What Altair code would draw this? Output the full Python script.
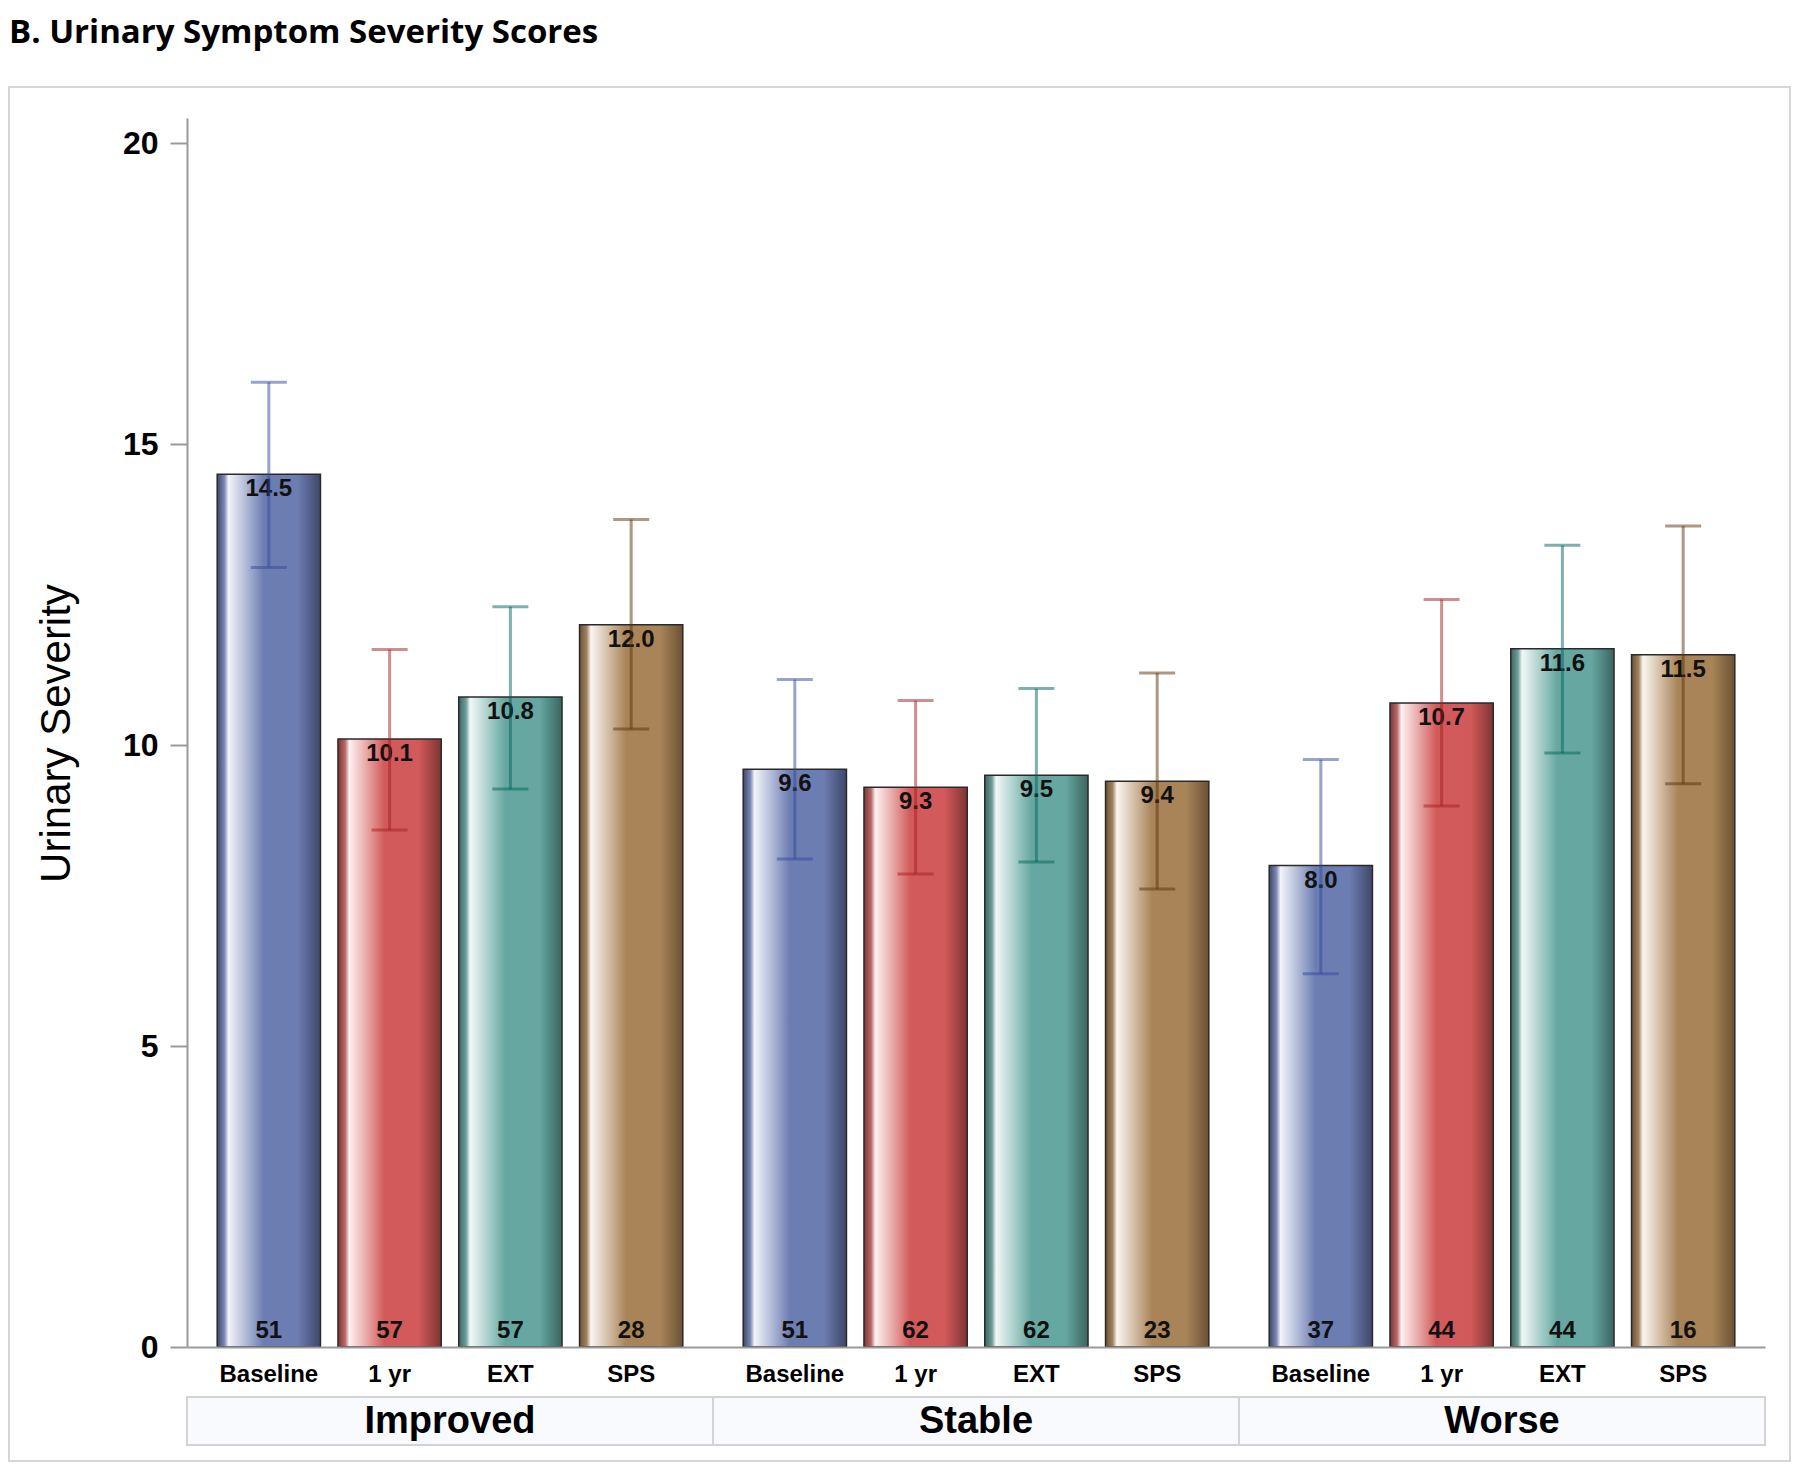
import altair as alt
import pandas as pd

# ---- data ----
groups = ["Improved", "Stable", "Worse"]
times = ["Baseline", "1 yr", "EXT", "SPS"]
means = [[14.5, 10.1, 10.8, 12.0],
         [9.6, 9.3, 9.5, 9.4],
         [8.0, 10.7, 11.6, 11.5]]
upper = [[16.03, 11.59, 12.30, 13.75],
         [11.09, 10.74, 10.94, 11.20],
         [9.76, 12.42, 13.32, 13.64]]
lower = [[12.95, 8.59, 9.27, 10.27],
         [8.11, 7.86, 8.06, 7.61],
         [6.20, 8.99, 9.87, 9.36]]
counts = [[51, 57, 57, 28],
          [51, 62, 62, 23],
          [37, 44, 44, 16]]
y_ticks = [0, 5, 10, 15, 20]
chart_title = "B. Urinary Symptom Severity Scores"
y_title = "Urinary Severity"

# ---- styles ----
base_cols = {"Baseline": "#6C7DB2", "1 yr": "#D35A5A", "EXT": "#66A8A1", "SPS": "#A98459"}
dark_cols = {"Baseline": "#3E4767", "1 yr": "#7E3434", "EXT": "#3B6560", "SPS": "#6B5233"}
mid_cols = {"Baseline": "#7C89B5", "1 yr": "#B86A6A", "EXT": "#6F9D98", "SPS": "#A08462"}
light_cols = {"Baseline": "#F3F4F9", "1 yr": "#FDF1F1", "EXT": "#F1F8F7", "SPS": "#FBF6F0"}
err_cols = ["#34479A", "#A41E1E", "#00645A", "#5A3208"]

rows = []
for gi, g in enumerate(groups):
    for ti, t in enumerate(times):
        rows.append(dict(group=g, time=t, mean=means[gi][ti], lo=lower[gi][ti],
                         hi=upper[gi][ti], n=str(counts[gi][ti]),
                         label=f"{means[gi][ti]:.1f}"))
df = pd.DataFrame(rows)
df_g = pd.DataFrame({"group": groups})
df_one = pd.DataFrame({"t": [chart_title]})

W, H = 1578, 1229
FONT = "Liberation Sans"

x_enc = alt.X("group:N", scale=alt.Scale(domain=groups, paddingInner=0, paddingOuter=0),
              axis=alt.Axis(labels=False, ticks=False, title=None, domain=True,
                            domainColor="#9a9a9a", domainWidth=2, grid=False))
xo_enc = alt.XOffset("time:N", scale=alt.Scale(domain=times, paddingInner=0.145, paddingOuter=0.25))
y_scale = alt.Scale(domain=[0, 20.42], nice=False, zero=True)
y_axis = alt.Axis(values=y_ticks, format="d", tickSize=17, tickColor="#9a9a9a", tickWidth=2,
                  domainColor="#9a9a9a", domainWidth=2, labelFont=FONT, labelFontSize=32,
                  labelFontWeight="bold", labelColor="black", labelPadding=12,
                  labelFlush=False, grid=False, title=y_title, titleFont=FONT,
                  titleFontSize=42, titleFontWeight="normal", titleColor="black",
                  titleX=-109, titleY=615, titleAngle=270, titleBaseline="bottom",
                  titleAlign="center")


def Y(field):
    return alt.Y(field, scale=y_scale, axis=y_axis)


layers = []

# outer border
layers.append(alt.Chart(df_one).mark_rect(fillOpacity=0, stroke="#d6d6d6", strokeWidth=2).encode(
    x=alt.value(-178), x2=alt.value(1603), y=alt.value(-31), y2=alt.value(H + 114)))

# title
layers.append(alt.Chart(df_one).mark_text(font="Open Sans", fontSize=33, fontWeight="bold",
                                          align="left", baseline="alphabetic", color="black").encode(
    x=alt.value(-178), y=alt.value(-75), text="t:N"))

# group label boxes
layers.append(alt.Chart(df_g).mark_rect(fill="#f9fafe", stroke="#d3d3d3", strokeWidth=2).encode(
    x=x_enc, y=alt.value(H + 50), y2=alt.value(H + 98)))
layers.append(alt.Chart(df_g).mark_text(font=FONT, fontSize=38, fontWeight="bold",
                                        color="black", baseline="middle").encode(
    x=x_enc, y=alt.value(H + 75), text="group:N"))

# bars with gradient fills
for i, t in enumerate(times):
    grad = alt.LinearGradient(
        gradient="linear", x1=0, x2=1, y1=0, y2=0,
        stops=[alt.GradientStop(color=dark_cols[t], offset=0),
               alt.GradientStop(color=mid_cols[t], offset=0.07),
               alt.GradientStop(color=light_cols[t], offset=0.11),
               alt.GradientStop(color=base_cols[t], offset=0.45),
               alt.GradientStop(color=base_cols[t], offset=0.78),
               alt.GradientStop(color=dark_cols[t], offset=1)])
    layers.append(alt.Chart(df).transform_filter(alt.datum.time == t).mark_bar(
        color=grad, stroke="#2a2a2a", strokeWidth=1.5).encode(x=x_enc, xOffset=xo_enc, y=Y("mean:Q")))

# value labels and counts
layers.append(alt.Chart(df).mark_text(font=FONT, fontSize=24, fontWeight="bold", color="#111111",
                                      baseline="middle", dy=15).encode(
    x=x_enc, xOffset=xo_enc, y=Y("mean:Q"), text="label:N"))
layers.append(alt.Chart(df).mark_text(font=FONT, fontSize=24, fontWeight="bold", color="#111111",
                                      baseline="middle", dy=-16).encode(
    x=x_enc, xOffset=xo_enc, y=alt.datum(0), text="n:N"))

# time labels under axis
layers.append(alt.Chart(df).mark_text(font=FONT, fontSize=24, fontWeight="bold", color="black",
                                      baseline="middle").encode(
    x=x_enc, xOffset=xo_enc, y=alt.value(H + 28), text="time:N"))

# error bars
col_enc = alt.Color("time:N", scale=alt.Scale(domain=times, range=err_cols), legend=None)
layers.append(alt.Chart(df).mark_rule(strokeWidth=3, opacity=0.5).encode(
    x=x_enc, xOffset=xo_enc, y=Y("lo:Q"), y2="hi:Q", color=col_enc))
layers.append(alt.Chart(df).mark_tick(thickness=3, size=36, opacity=0.5).encode(
    x=x_enc, xOffset=xo_enc, y=Y("hi:Q"), color=col_enc))
layers.append(alt.Chart(df).mark_tick(thickness=3, size=36, opacity=0.5).encode(
    x=x_enc, xOffset=xo_enc, y=Y("lo:Q"), color=col_enc))

chart = alt.layer(*layers).properties(
    width=W, height=H,
    autosize=alt.AutoSizeParams(type="none"),
    padding={"left": 179, "top": 110, "right": 27, "bottom": 116},
).configure_view(stroke="transparent")

chart.save("out.html", embed_options={"renderer": "svg", "actions": False})
